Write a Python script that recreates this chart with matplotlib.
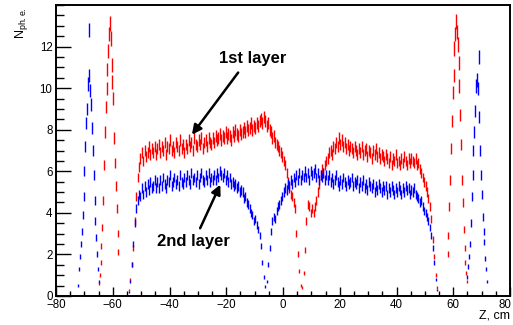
import numpy as np
import matplotlib
matplotlib.use("Agg")
import matplotlib.pyplot as plt
from matplotlib.transforms import ScaledTranslation

# Mean number of photoelectrons vs Z for the two layers.
# Central part: bins of 0.5 cm starting at -54.25 cm; side peaks: bins of 0.3 cm.
main_z0, main_dz = -54.25, 0.5
peak_dz = 0.3

red_main = [
    0.3, 0.8, 1.5, 2.3, 3.6, 4.8, 5.7, 6.2, 6.6, 6.9, 6.5, 7.0, 6.7, 6.9, 7.2, 6.8, 7.1, 6.9, 7.2, 6.8,
    7.1, 7.3, 6.9, 7.2, 7.0, 7.4, 6.8, 7.2, 7.1, 7.5, 7.0, 7.2, 6.9, 7.4, 7.2, 7.0, 7.5, 7.1, 7.3, 6.9,
    7.3, 7.1, 7.5, 7.2, 7.4, 7.0, 7.6, 7.3, 7.2, 7.5, 7.3, 7.6, 7.1, 7.4, 7.5, 7.2, 7.6, 7.4, 7.3, 7.6,
    7.4, 7.7, 7.5, 7.6, 7.8, 7.5, 7.7, 7.6, 7.9, 7.6, 7.8, 7.7, 7.5, 7.9, 7.7, 8.0, 7.8, 7.7, 8.0, 7.8,
    7.9, 8.1, 7.9, 8.2, 8.0, 8.1, 8.3, 8.0, 8.2, 8.1, 8.3, 8.2, 8.4, 8.5, 8.3, 8.6, 8.4, 8.2, 8.3, 8.0,
    7.9, 7.6, 7.7, 7.4, 7.3, 7.2, 7.0, 6.9, 6.7, 6.5, 6.3, 5.9, 5.5, 5.2, 4.9, 4.8, 4.5, 4.2, 3.0, 2.0,
    1.2, 0.5, 0.4, 1.1, 2.2, 3.6, 4.4, 4.3, 4.0, 4.2, 4.0, 4.3, 4.6, 5.0, 5.4, 5.8, 6.1, 5.9, 6.3, 6.5,
    6.6, 6.9, 7.0, 6.8, 7.2, 7.1, 7.4, 7.2, 7.6, 7.3, 7.5, 7.2, 7.4, 7.1, 7.3, 7.0, 7.2, 7.1, 6.9, 7.2,
    7.0, 6.8, 7.1, 6.9, 7.2, 6.8, 7.0, 7.1, 6.7, 7.0, 6.9, 6.6, 7.0, 6.8, 7.1, 6.7, 6.9, 6.6, 6.8, 6.7,
    6.5, 6.8, 6.6, 6.4, 6.7, 6.3, 6.6, 6.5, 6.8, 6.4, 6.5, 6.3, 6.6, 6.4, 6.7, 6.5, 6.3, 6.6, 6.4, 6.6,
    6.5, 6.4, 6.6, 6.3, 6.4, 6.1, 5.9, 5.7, 5.5, 5.3, 5.0, 4.7, 4.3, 3.7, 2.7, 1.9, 1.0, 0.4,
]

blue_main = [
    0.2, 0.7, 1.5, 2.5, 3.5, 4.2, 4.6, 4.9, 4.8, 5.2, 4.9, 5.3, 5.0, 5.4, 5.1, 5.5, 5.2, 5.3, 5.6, 5.2,
    5.5, 5.2, 5.6, 5.3, 5.7, 5.4, 5.2, 5.6, 5.5, 5.8, 5.3, 5.5, 5.7, 5.4, 5.6, 5.3, 5.8, 5.5, 5.4, 5.7,
    5.5, 5.8, 5.6, 5.4, 5.9, 5.6, 5.7, 5.5, 5.8, 5.4, 5.7, 5.9, 5.6, 5.5, 5.8, 5.6, 5.9, 5.5, 5.7, 5.6,
    5.8, 5.6, 5.9, 5.7, 6.0, 5.8, 5.7, 5.9, 5.6, 5.8, 5.5, 5.7, 5.4, 5.5, 5.3, 5.4, 5.2, 5.3, 5.0, 5.1,
    5.0, 4.7, 4.8, 4.5, 4.4, 4.2, 4.0, 3.9, 3.6, 3.7, 3.4, 3.2, 2.9, 2.4, 1.6, 0.9, 0.45, 0.7, 1.5, 2.3,
    3.1, 3.6, 3.8, 3.7, 4.1, 4.3, 4.4, 4.6, 4.8, 5.0, 5.2, 5.1, 5.4, 5.3, 5.6, 5.4, 5.7, 5.5, 5.8, 5.6,
    5.9, 5.6, 5.8, 5.7, 6.0, 5.7, 5.9, 5.6, 6.0, 5.8, 5.9, 6.1, 5.7, 5.9, 5.6, 5.8, 5.7, 5.9, 5.6, 5.8,
    5.6, 5.8, 5.5, 5.7, 5.4, 5.6, 5.8, 5.5, 5.3, 5.6, 5.4, 5.7, 5.5, 5.3, 5.6, 5.4, 5.5, 5.7, 5.3, 5.5,
    5.4, 5.6, 5.2, 5.5, 5.3, 5.6, 5.2, 5.4, 5.1, 5.5, 5.3, 5.2, 5.4, 5.0, 5.3, 5.1, 5.4, 5.2, 5.0, 5.3,
    5.1, 5.3, 4.9, 5.2, 5.0, 5.3, 5.1, 4.9, 5.2, 5.0, 5.3, 5.1, 4.9, 5.2, 5.0, 5.3, 5.1, 5.2, 4.9, 5.1,
    5.0, 5.2, 4.9, 4.8, 4.7, 4.5, 4.6, 4.3, 4.1, 4.0, 3.8, 3.6, 3.3, 2.9, 2.3, 1.6, 0.8, 0.3,
]

red_left_z0 = -64.9
red_left = [0.6, 1.0, 1.6, 2.4, 3.3, 4.6, 6.3, 7.9, 9.1, 10.0, 10.9, 11.8,
            12.6, 13.1, 12.4, 11.1, 10.3, 9.5, 7.6, 6.4, 5.3, 4.2, 3.0, 2.1]

red_right_z0 = 58.0
red_right = [2.0, 2.9, 4.3, 5.6, 7.1, 8.4, 9.8, 10.6, 11.9, 12.6, 13.2, 12.7,
             12.1, 11.2, 10.1, 8.7, 7.3, 5.6, 4.5, 3.2, 2.3, 1.6, 1.1, 0.7]

blue_left_z0 = -72.1
blue_left = [0.5, 1.3, 1.9, 2.5, 3.1, 3.9, 4.8, 6.0, 7.2, 8.3, 9.0, 10.2, 12.8,
             10.6, 9.9, 9.2, 8.1, 7.0, 5.8, 4.6, 3.6, 2.8, 2.0, 1.3, 0.7]

blue_right_z0 = 65.0
blue_right = [0.9, 1.4, 1.9, 2.5, 3.5, 4.8, 5.8, 7.0, 7.9, 8.9, 10.1, 10.4,
              10.0, 11.5, 8.6, 7.0, 5.8, 4.9, 3.8, 3.1, 2.6, 1.8, 1.3, 0.7]

plt.rcParams['font.family'] = ['Liberation Sans', 'DejaVu Sans']
plt.rcParams['mathtext.fontset'] = 'custom'
plt.rcParams['mathtext.rm'] = 'Liberation Sans'


def draw_hist(ax, z0, dz, vals, color):
    vals = np.asarray(vals, dtype=float)
    z = z0 + dz * np.arange(len(vals))
    err = 0.1 * np.sqrt(vals)
    ax.errorbar(z, vals, yerr=err, fmt='none', ecolor=color,
                elinewidth=1.0, capsize=0)


fig = plt.figure(figsize=(5.13, 3.25), dpi=100)
ax = fig.add_axes([56 / 513, 1 - 296 / 325, 454 / 513, 291 / 325])

draw_hist(ax, main_z0, main_dz, red_main, 'red')
draw_hist(ax, red_left_z0, peak_dz, red_left, 'red')
draw_hist(ax, red_right_z0, peak_dz, red_right, 'red')
draw_hist(ax, main_z0, main_dz, blue_main, 'blue')
draw_hist(ax, blue_left_z0, peak_dz, blue_left, 'blue')
draw_hist(ax, blue_right_z0, peak_dz, blue_right, 'blue')

ax.set_xlim(-80, 80)
ax.set_ylim(0, 14)
ax.set_xticks(np.arange(-80, 81, 20))
ax.set_xticks(np.arange(-80, 81, 5), minor=True)
ax.set_yticks(np.arange(0, 13, 2))
ax.set_yticks(np.arange(0, 14.01, 0.5), minor=True)
ax.tick_params(which='both', direction='in', top=False, right=False,
               labelsize=8.3, width=1.0, pad=2.5)
ax.tick_params(axis='y', which='major', length=10.5)
ax.tick_params(axis='y', which='minor', length=5.5)
ax.tick_params(axis='x', which='major', length=6.5)
ax.tick_params(axis='x', which='minor', length=3.5)
for sp in ax.spines.values():
    sp.set_linewidth(1.4)

# the last x label sits against the right edge, nudge it inwards a bit
last = ax.get_xticklabels()[-1]
last.set_transform(last.get_transform() + ScaledTranslation(-4 / 72, 0, fig.dpi_scale_trans))

# annotations
arrow = dict(arrowstyle='-|>', color='k', lw=1.8, mutation_scale=14,
             shrinkA=0, shrinkB=0)
ax.annotate('', xy=(-32.1, 7.76), xytext=(-15.8, 10.75), arrowprops=arrow)
ax.annotate('', xy=(-22.1, 5.36), xytext=(-29.2, 3.26), arrowprops=arrow)
ax.text(-10.8, 11.43, '1st layer', ha='center', va='center', fontsize=12, fontweight='bold')
ax.text(-31.6, 2.64, '2nd layer', ha='center', va='center', fontsize=12, fontweight='bold')

fig.text(22 / 513, 1 - 7 / 325, r'N$_{\mathrm{ph.e.}}$', rotation=90,
         ha='center', va='top', fontsize=9)
fig.text(510 / 513, 1 - 316 / 325, 'Z, cm', ha='right', va='center', fontsize=9)

fig.savefig('out.png', dpi=100)
